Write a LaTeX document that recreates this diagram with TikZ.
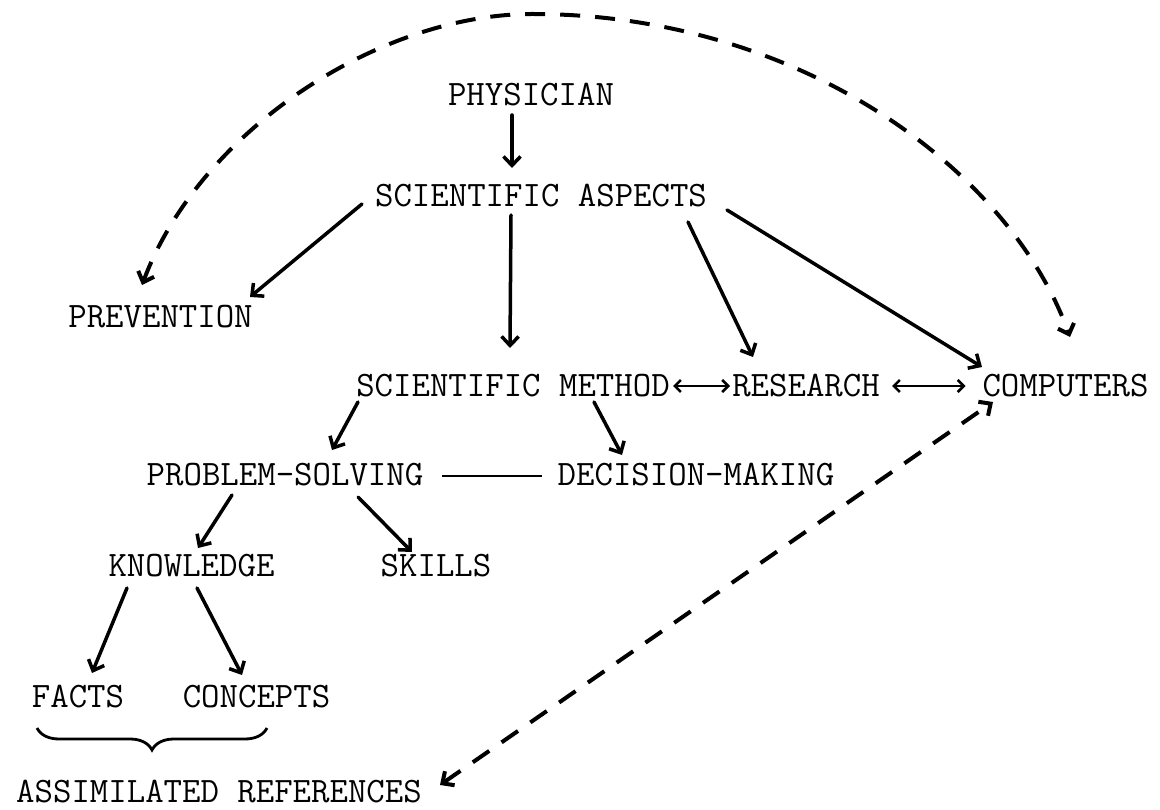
\documentclass[tikz,border=0pt]{standalone}
\usetikzlibrary{arrows.meta,calc,decorations.pathreplacing}
\begin{document}
\begin{tikzpicture}[x=1pt,y=-1pt,
  lbl/.style={font=\fontsize{35.8}{40}\selectfont\ttfamily, inner sep=0pt,
              text height=21.9pt, text depth=0pt, anchor=center},
  link/.style={line width=3.5pt, line cap=round,
               -{Straight Barb[length=9pt,width=17pt]}},
  twoway/.style={line width=2.5pt,
               {Straight Barb[length=6pt,width=12pt]}-{Straight Barb[length=6pt,width=12pt]}},
  plainline/.style={line width=2.5pt},
  dashlink/.style={line width=4pt, dash pattern=on 20pt off 15pt,
               {Straight Barb[length=9pt,width=17pt]}-{Straight Barb[length=9pt,width=17pt]}},
  bracket/.style={line width=2.8pt, decorate,
               decoration={brace, mirror, amplitude=22pt}}]

\useasboundingbox (0,0) rectangle (1160,810);

% concepts
\node[lbl] (phys)   at (531,95)    {PHYSICIAN};
\node[lbl] (asp)    at (541,196)   {SCIENTIFIC ASPECTS};
\node[lbl] (prev)   at (160.5,317) {PREVENTION};
\node[lbl] (meth)   at (513,386)   {SCIENTIFIC METHOD};
\node[lbl] (res)    at (806,386)   {RESEARCH};
\node[lbl] (comp)   at (1065.5,386){COMPUTERS};
\node[lbl] (prob)   at (285,475)   {PROBLEM-SOLVING};
\node[lbl] (dec)    at (696,475)   {DECISION-MAKING};
\node[lbl] (know)   at (191.5,566) {KNOWLEDGE};
\node[lbl] (skills) at (436,566)   {SKILLS};
\node[lbl] (facts)  at (78,697)    {FACTS};
\node[lbl] (conc)   at (256.5,697) {CONCEPTS};
\node[lbl] (assim)  at (219,792)   {ASSIMILATED REFERENCES};

% solid arrows
\draw[link] ($(phys)+(-19,20)$)   -- ($(asp)+(-29,-28)$);
\draw[link] ($(asp)+(-179,8)$)    -- ($(prev)+(89.5,-20)$);
\draw[link] ($(asp)+(-30,19)$)    -- ($(meth)+(-3,-38)$);
\draw[link] ($(asp)+(147,26)$)    -- ($(res)+(-53,-29)$);
\draw[link] ($(asp)+(186,14)$)    -- ($(comp)+(-83.5,-19)$);
\draw[link] ($(meth)+(-155,16)$)  -- ($(prob)+(47,-25)$);
\draw[link] ($(meth)+(81,16)$)    -- ($(dec)+(-74,-20)$);
\draw[link] ($(prob)+(-53,20)$)   -- ($(know)+(6.5,-18)$);
\draw[link] ($(prob)+(73,22)$)    -- ($(skills)+(-24,-14)$);
\draw[link] ($(know)+(-64.5,22)$) -- ($(facts)+(14,-24)$);
\draw[link] ($(know)+(5.5,22)$)   -- ($(conc)+(-14.5,-22)$);

% two-way links and plain link
\draw[twoway] ($(meth)+(160,0)$) -- ($(res)+(-76,0)$);
\draw[twoway] ($(res)+(86,0)$)   -- ($(comp)+(-100,0)$);
\draw[plainline] ($(prob)+(157,1)$) -- ($(dec)+(-154,1)$);

% dashed links
\coordinate (arcL) at ($(prev)+(-18.5,-32)$);
\coordinate (arcR) at ($(comp)+(4.5,-49)$);
\coordinate (arcTop) at (532,14);
\draw[dashlink] (arcL) .. controls ($(arcL)+(58,-155)$) and (380,14) .. (arcTop)
                       .. controls (800,14) and (1010,170) .. (arcR);
\draw[dashlink] ($(assim)+(221,-7)$) -- ($(comp)+(-72.5,16)$);

% brace under facts and concepts
\draw[bracket] ($(facts)+(-41,31)$) -- ($(conc)+(10.5,31)$);

\end{tikzpicture}
\end{document}
